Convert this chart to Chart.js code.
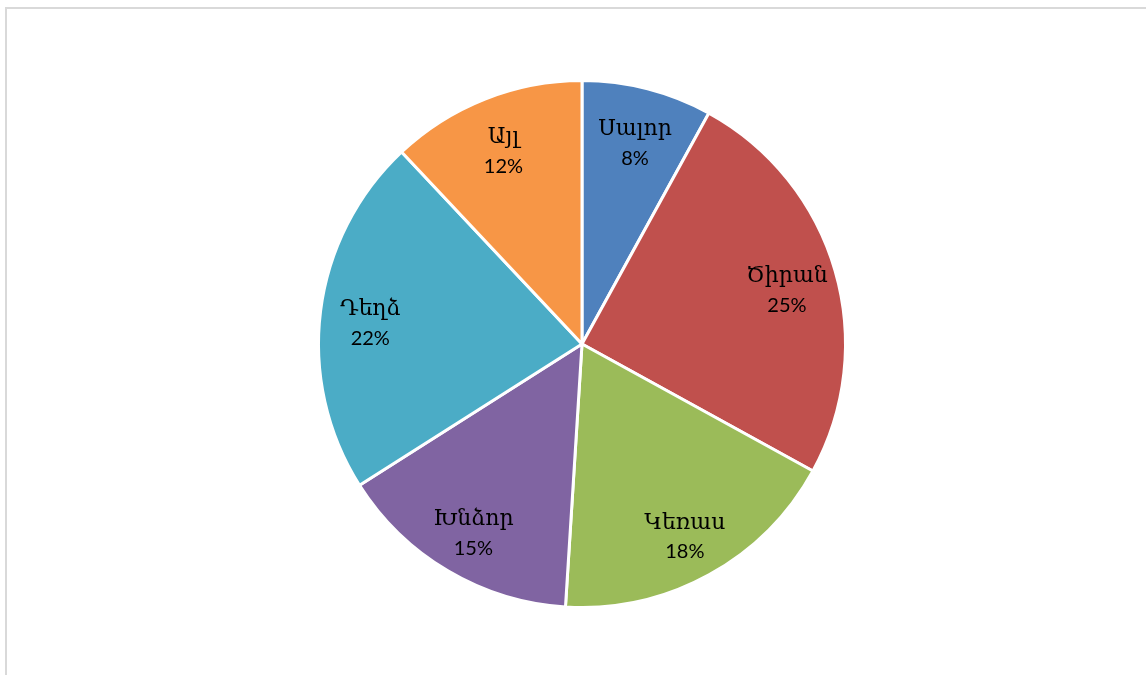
<!DOCTYPE html>
<html>
<head>
<meta charset="utf-8">
<script src="https://cdn.jsdelivr.net/npm/chart.js@4"></script>
<style>
html,body{margin:0;padding:0;background:#fff;overflow:hidden;}
#wrap{position:relative;width:1146px;height:675px;}
#frame{position:absolute;left:5px;top:7px;width:1200px;height:700px;border-left:2px solid #d9d9d9;border-top:2px solid #d9d9d9;box-sizing:border-box;}
canvas{position:absolute;left:0;top:0;}
</style>
</head>
<body>
<div id="wrap"><div id="frame"></div><canvas id="c" width="1146" height="675"></canvas></div>
<script>
const categories = ["Սալոր", "Ծիրան", "Կեռաս", "Խնձոր", "Դեղձ", "Այլ"];
const values = [8, 25, 18, 15, 22, 12];
const colors = ["#4F81BD", "#C0504D", "#9BBB59", "#8064A2", "#4BACC6", "#F79646"];

const labelPlugin = {
  id: 'sliceLabels',
  afterDatasetsDraw(chart) {
    const ctx = chart.ctx;
    const meta = chart.getDatasetMeta(0);
    const total = values.reduce((a, b) => a + b, 0);
    meta.data.forEach((arc, i) => {
      const mid = (arc.startAngle + arc.endAngle) / 2;
      const r = arc.outerRadius * 0.81;
      const x = arc.x + Math.cos(mid) * r;
      const y = arc.y + Math.sin(mid) * r + 6;
      ctx.save();
      ctx.fillStyle = '#000';
      ctx.textAlign = 'center';
      ctx.textBaseline = 'middle';
      ctx.font = '22px "DejaVu Serif", serif';
      ctx.fillText(categories[i], x, y - 14);
      ctx.font = '20px Lato, "Open Sans", sans-serif';
      ctx.fillText(Math.round(values[i] / total * 100) + '%', x, y + 15);
      ctx.restore();
    });
  }
};

new Chart(document.getElementById('c'), {
  type: 'pie',
  data: {
    labels: categories,
    datasets: [{
      data: values,
      backgroundColor: colors,
      borderColor: '#ffffff',
      borderWidth: 3
    }]
  },
  options: {
    responsive: false,
    animation: false,
    layout: { padding: { left: 317, right: 299, top: 79, bottom: 66 } },
    plugins: { legend: { display: false }, tooltip: { enabled: false } }
  },
  plugins: [labelPlugin]
});
</script>
</body>
</html>
